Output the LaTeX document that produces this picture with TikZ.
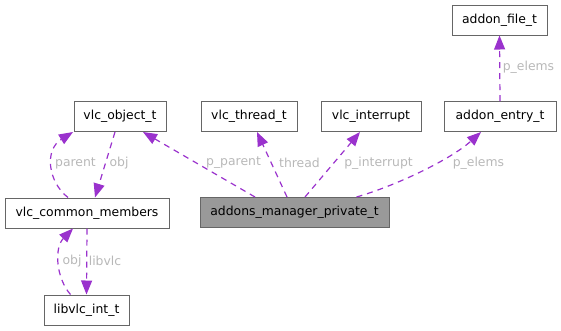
\documentclass[tikz,border=0pt]{standalone}
\usepackage{fontspec}
\setmainfont{DejaVu Sans}
\usetikzlibrary{arrows.meta}
\definecolor{edgepurple}{HTML}{9A32CD}
\definecolor{labelgrey}{HTML}{B8B8B8}
\definecolor{boxborder}{HTML}{666666}
\definecolor{boxfill}{HTML}{999999}
\tikzset{
  cls/.style={draw=boxborder, line width=1pt, fill=white, inner sep=0pt,
    minimum height=30pt, font=\fontsize{12.4}{14}\selectfont, text=black},
  clsmain/.style={cls, fill=boxfill},
  rel/.style={draw=edgepurple, line width=1.2pt, dash pattern=on 6pt off 5pt,
    -{Triangle[length=14pt,width=11pt,fill=edgepurple]}},
  lbl/.style={text=labelgrey, inner sep=0pt, font=\fontsize{12.4}{14}\selectfont}
}
\begin{document}
\begin{tikzpicture}[x=1pt,y=-1pt]
\useasboundingbox (0,0) rectangle (561,330);
% classes
\node[cls, minimum width=95pt]  (file)   at (499.5,20)   {addon\_file\_t};
\node[cls, minimum width=112pt] (entry)  at (500,116.5)  {addon\_entry\_t};
\node[cls, minimum width=100pt] (intr)   at (371,116.5)  {vlc\_interrupt};
\node[cls, minimum width=96pt]  (thread) at (249,116.5)  {vlc\_thread\_t};
\node[cls, minimum width=92pt]  (object) at (120,116.5)  {vlc\_object\_t};
\node[cls, minimum width=164pt] (common) at (87,213)     {vlc\_common\_members};
\node[clsmain, minimum width=189pt] (mgr) at (294.5,212.5) {addons\_manager\_private\_t};
\node[cls, minimum width=85pt]  (libvlc) at (86.5,310)   {libvlc\_int\_t};
% relations
\draw[rel] ([xshift=-5pt]object.south) -- ([xshift=8pt]common.north);
\draw[rel] ([xshift=-19pt]common.north) .. controls (48,182) and (44,150) .. ([xshift=-47pt]object.south);
\draw[rel] (common.south) -- (libvlc.north);
\draw[rel] ([xshift=-16pt]libvlc.north) .. controls (56,278) and (54,248) .. ([xshift=-14pt]common.south);
\draw[rel] ([xshift=-39.5pt]mgr.north) -- ([xshift=23pt]object.south);
\draw[rel] ([xshift=-7.5pt]mgr.north) -- ([xshift=8pt]thread.south);
\draw[rel] ([xshift=10.5pt]mgr.north) -- ([xshift=-11pt]intr.south);
\draw[rel] ([xshift=62pt]mgr.north) .. controls (395,186) and (450,160) .. ([xshift=-19pt]entry.south);
\draw[rel] (entry.north) -- (file.south);
% labels
\node[lbl] (lparent) at (75.5,163)  {parent};
\node[lbl] (lobj1)   at (119,163)   {obj};
\node[lbl] (lobj2)   at (72,261)    {obj};
\node[lbl] (llibvlc) at (105,261)   {libvlc};
\node[lbl] (lpparent) at (233.5,163) {p\_parent};
\node[lbl] (lthread) at (299.5,163) {thread};
\node[lbl] (lintr)   at (378.5,163) {p\_interrupt};
\node[lbl] (lelems1) at (478.5,163) {p\_elems};
\node[lbl] (lelems2) at (528.5,67)  {p\_elems};
\end{tikzpicture}
\end{document}
